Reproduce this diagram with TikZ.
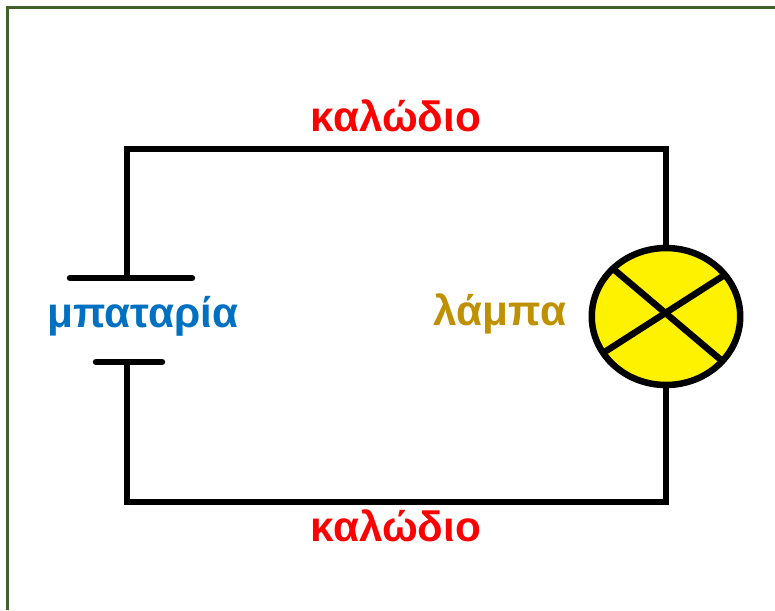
\documentclass[tikz,border=0pt]{standalone}
\usepackage{fontspec}
\setmainfont{Liberation Sans}
\usepackage{xcolor}
\usetikzlibrary{calc,positioning,shapes.geometric}
\definecolor{framegreen}{HTML}{41632B}
\definecolor{wirered}{HTML}{FF0000}
\definecolor{batteryblue}{HTML}{0070C0}
\definecolor{lampgold}{HTML}{BF9000}
\definecolor{lampyellow}{HTML}{FFF200}
\tikzset{
	wire/.style={line width=3.7pt, black, line join=miter},
	plate/.style={line width=3.7pt, black, line cap=round},
	partlabel/.style={font=\fontsize{24.1}{28}\selectfont\bfseries, inner sep=0pt}
}

\begin{document}
\begin{tikzpicture}[x=0.02cm,y=-0.02cm]
	\useasboundingbox (0,0) rectangle (775,610);
	% frame
	\draw [line width=1.7pt, framegreen] (7.5,610) -- (7.5,7.5) -- (775,7.5);
	% corners of the circuit
	\coordinate (cornerTL) at (127,149);
	\coordinate (cornerTR) at (666,149);
	\coordinate (cornerBL) at (127,502);
	\coordinate (cornerBR) at (666,502);
	% battery
	\coordinate (plateLongL) at (70,278);
	\coordinate (plateLongR) at (192,278);
	\coordinate (plateLongM) at (127,278);
	\coordinate (plateShortL) at (96,362);
	\coordinate (plateShortR) at (162,362);
	\coordinate (plateShortM) at (127,362);
	\draw [plate] (plateLongL) -- (plateLongR);
	\draw [plate] (plateShortL) -- (plateShortR);
	% lamp
	\node [ellipse, draw, line width=3.7pt, fill=lampyellow, minimum width=2.97cm, minimum height=2.74cm, inner sep=0pt] (lamp) at (666,316.5) {};
	\coordinate (crossA) at (611,267);
	\coordinate (crossB) at (721,360);
	\coordinate (crossC) at (603,353);
	\coordinate (crossD) at (723,276);
	\draw [wire] (crossA) -- (crossB);
	\draw [wire] (crossC) -- (crossD);
	% wires
	\draw [wire] (plateLongM) -- (cornerTL) -- (cornerTR) -- (lamp.north);
	\draw [wire] (plateShortM) -- (cornerBL) -- (cornerBR) -- (lamp.south);
	% labels
	\node [partlabel, text=wirered] (wireTop) at (396,116) {καλώδιο};
	\node [partlabel, text=wirered] (wireBottom) at (396,526) {καλώδιο};
	\node [partlabel, text=batteryblue] (batteryLabel) at (143,316) {μπαταρία};
	\node [partlabel, text=lampgold] (lampLabel) at (500,314) {λάμπα};
\end{tikzpicture}
\end{document}
